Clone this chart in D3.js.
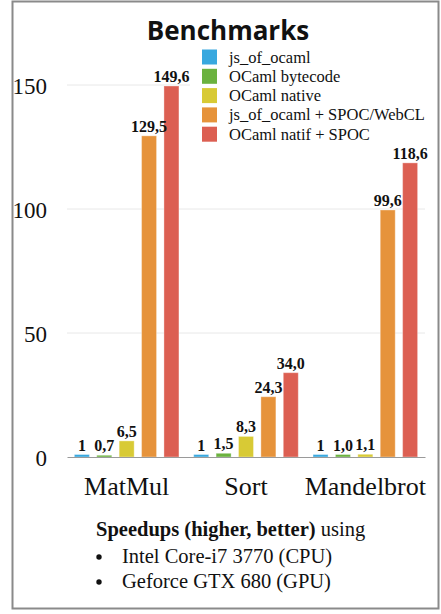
<!DOCTYPE html>
<html>
<head>
<meta charset="utf-8">
<script src="https://cdn.jsdelivr.net/npm/d3@7"></script>
<style>
  html, body { margin: 0; padding: 0; background: #fff; }
  svg { display: block; }
</style>
</head>
<body>
<svg id="chart" width="441" height="614"></svg>
<script>
// Benchmark speedups per program and execution target
const categories = ["MatMul", "Sort", "Mandelbrot"];
const seriesNames = [
  "js_of_ocaml",
  "OCaml bytecode",
  "OCaml native",
  "js_of_ocaml + SPOC/WebCL",
  "OCaml natif + SPOC"
];
const jsOfOcaml      = [1, 1, 1];
const ocamlBytecode  = [0.7, 1.5, 1.0];
const ocamlNative    = [6.5, 8.3, 1.1];
const jsOfOcamlSpoc  = [129.5, 24.3, 99.6];
const ocamlNatifSpoc = [149.6, 34.0, 118.6];
const valueLabels = [
  ["1", "0,7", "6,5", "129,5", "149,6"],
  ["1", "1,5", "8,3", "24,3", "34,0"],
  ["1", "1,0", "1,1", "99,6", "118,6"]
];
const yTicks = [0, 50, 100, 150];
const seriesColors = ["#38a8df", "#6bb23f", "#d8ca35", "#e6933b", "#dc5f52"];

const series = [jsOfOcaml, ocamlBytecode, ocamlNative, jsOfOcamlSpoc, ocamlNatifSpoc];

const serif = "'Liberation Serif', 'DejaVu Serif', serif";
const sans = "'Open Sans', Lato, sans-serif";

const svg = d3.select("#chart");

// frame
svg.append("rect")
  .attr("x", 12.5).attr("y", 1.5)
  .attr("width", 426).attr("height", 607)
  .attr("fill", "#fff")
  .attr("stroke", "#8a8a8a").attr("stroke-width", 2);

const plot = { left: 67, right: 425, top: 85, bottom: 457 };

const x0 = d3.scaleBand()
  .domain(categories)
  .range([plot.left, plot.right])
  .paddingInner(0).paddingOuter(0);

const x1 = d3.scaleBand()
  .domain(seriesNames)
  .range([0, x0.bandwidth()])
  .padding(0.33);

const y = d3.scaleLinear()
  .domain([0, 150])
  .range([plot.bottom, plot.top]);

// gridlines
svg.append("g")
  .selectAll("line")
  .data(yTicks.filter(t => t > 0))
  .join("line")
  .attr("x1", plot.left).attr("x2", plot.right)
  .attr("y1", d => y(d)).attr("y2", d => y(d))
  .attr("stroke", "#e8e8e8").attr("stroke-width", 1);

// y axis labels
const yAxis = d3.axisLeft(y).tickValues(yTicks).tickSize(0).tickPadding(0);
const yg = svg.append("g")
  .attr("transform", `translate(47,0)`)
  .call(yAxis);
yg.select(".domain").remove();
yg.selectAll("text")
  .attr("font-family", serif)
  .attr("font-size", 23)
  .attr("fill", "#111")
  .attr("dy", "0.35em");

// bars
const groups = svg.append("g")
  .selectAll("g")
  .data(categories)
  .join("g")
  .attr("transform", c => `translate(${x0(c)},0)`);

groups.selectAll("rect")
  .data((c, ci) => seriesNames.map((s, si) => ({ s, si, v: series[si][ci] })))
  .join("rect")
  .attr("x", d => x1(d.s))
  .attr("width", x1.bandwidth())
  .attr("y", d => y(d.v))
  .attr("height", d => y(0) - y(d.v))
  .attr("fill", d => seriesColors[d.si])
  .attr("stroke", "rgba(255,255,255,0.35)")
  .attr("stroke-width", 1);

// value labels
groups.selectAll("text")
  .data((c, ci) => seriesNames.map((s, si) => ({ s, si, v: series[si][ci], label: valueLabels[ci][si] })))
  .join("text")
  .attr("x", d => x1(d.s) + x1.bandwidth() / 2)
  .attr("y", d => y(d.v) - 4)
  .attr("text-anchor", "middle")
  .attr("font-family", serif)
  .attr("font-weight", "bold")
  .attr("font-size", 16)
  .attr("fill", "#111")
  .text(d => d.label);

// baseline axis
const xAxis = d3.axisBottom(x0).tickSize(0).tickPadding(0);
const xg = svg.append("g")
  .attr("transform", `translate(0,${plot.bottom})`)
  .call(xAxis);
xg.select(".domain").attr("stroke", "#9a9a9a").attr("stroke-width", 1.2);
xg.selectAll("text")
  .attr("font-family", serif)
  .attr("font-size", 26)
  .attr("fill", "#111")
  .attr("y", 38)
  .attr("dy", 0);

// title
svg.append("text")
  .attr("x", 228).attr("y", 40)
  .attr("text-anchor", "middle")
  .attr("font-family", sans)
  .attr("font-weight", "bold")
  .attr("font-size", 26)
  .attr("fill", "#111")
  .text("Benchmarks");

// legend
const legend = svg.append("g").attr("transform", "translate(190,46)");
legend.append("rect")
  .attr("width", 244).attr("height", 99)
  .attr("fill", "#fff");
const rowH = 19.3;
const items = legend.selectAll("g.item")
  .data(seriesNames)
  .join("g")
  .attr("class", "item")
  .attr("transform", (d, i) => `translate(12,${3.5 + i * rowH})`);
items.append("rect")
  .attr("width", 15).attr("height", 15)
  .attr("fill", (d, i) => seriesColors[i]);
items.append("text")
  .attr("x", 27).attr("y", 13)
  .attr("font-family", serif)
  .attr("font-size", 16.5)
  .attr("fill", "#111")
  .text(d => d);

// footnote
const note = svg.append("g").attr("font-family", serif).attr("fill", "#111");
const line1 = note.append("text").attr("x", 96).attr("y", 536).attr("font-size", 20.5);
line1.append("tspan").attr("font-weight", "bold").text("Speedups (higher, better)");
line1.append("tspan").text(" using");
const bullets = ["Intel Core-i7 3770 (CPU)", "Geforce GTX 680 (GPU)"];
bullets.forEach((b, i) => {
  const by = 563 + i * 25;
  note.append("circle").attr("cx", 99).attr("cy", by - 6).attr("r", 2.7);
  note.append("text").attr("x", 122).attr("y", by).attr("font-size", 20.5).text(b);
});
</script>
</body>
</html>
